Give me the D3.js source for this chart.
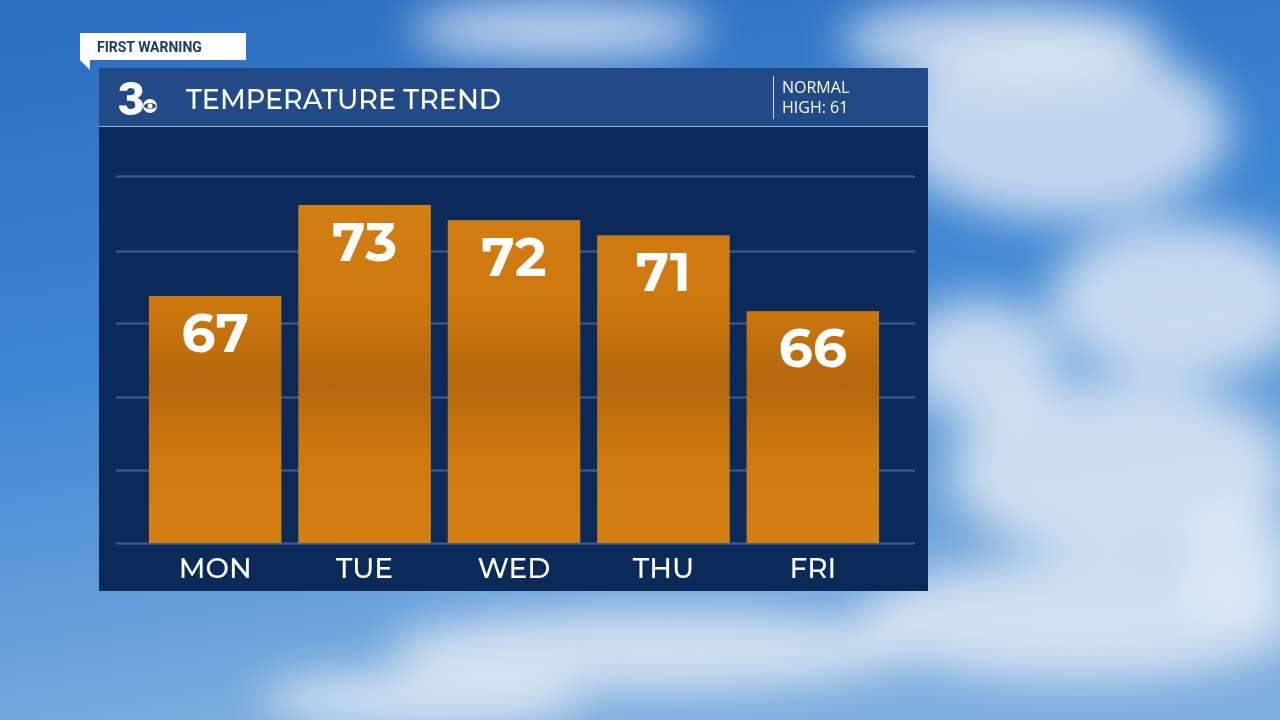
<!DOCTYPE html>
<html><head><meta charset="utf-8">
<script src="https://cdn.jsdelivr.net/npm/d3@7"></script>
<style>body{margin:0;overflow:hidden;background:#3a7cc4}</style>
</head><body>
<svg id="c" width="1280" height="720"></svg>
<script>
const days = ["MON","TUE","WED","THU","FRI"];
const temps = [67,73,72,71,66];
const gridVals = [55.53,60.35,65.2,70.0,74.9];
const title = "TEMPERATURE TREND";
const normalLines = ["NORMAL","HIGH: 61"];

const svg = d3.select("#c");
const defs = svg.append("defs");
const sky = defs.append("linearGradient").attr("id","sky").attr("x1",0).attr("y1",0).attr("x2",0.3).attr("y2",1);
sky.append("stop").attr("offset",0).attr("stop-color","#2a6cc0");
sky.append("stop").attr("offset",0.5).attr("stop-color","#3f86d2");
sky.append("stop").attr("offset",1).attr("stop-color","#7eaede");
const bar = defs.append("linearGradient").attr("id","bar").attr("gradientUnits","userSpaceOnUse").attr("x1",0).attr("y1",205).attr("x2",0).attr("y2",543);
[[0,"#d27e12"],[0.3,"#cc780f"],[0.52,"#b4670b"],[0.75,"#cf7a10"],[1,"#d47f10"]].forEach(s=>bar.append("stop").attr("offset",s[0]).attr("stop-color",s[1]));
const blur = defs.append("filter").attr("id","blur").attr("x","-50%").attr("y","-50%").attr("width","200%").attr("height","200%");
blur.append("feGaussianBlur").attr("stdDeviation",22);

svg.append("rect").attr("width",1280).attr("height",720).attr("fill","url(#sky)");
const clouds = [[1060,130,170,90],[1180,300,130,80],[1000,40,160,40],[1120,470,170,90],[1080,620,220,60],[560,30,150,30],[650,650,260,40],[420,700,160,30],[980,360,80,60],[1240,560,60,50]];
svg.append("g").attr("filter","url(#blur)").selectAll("ellipse").data(clouds).join("ellipse")
 .attr("cx",d=>d[0]).attr("cy",d=>d[1]).attr("rx",d=>d[2]).attr("ry",d=>d[3]).attr("fill","#eef2f7").attr("opacity",0.75);

svg.append("rect").attr("x",99).attr("y",68).attr("width",829).attr("height",523).attr("fill","#0b2a5a");
svg.append("rect").attr("x",99).attr("y",68).attr("width",829).attr("height",58).attr("fill","#224a86");
svg.append("line").attr("x1",99).attr("x2",928).attr("y1",126.5).attr("y2",126.5).attr("stroke","#8fb0d8").attr("stroke-width",1);
svg.append("path").attr("d","M80,33H246V60H90L90,70L80,60Z").attr("fill","#fff");
svg.append("text").attr("x",97).attr("y",52).text("FIRST WARNING").attr("font-family","Roboto").attr("font-weight",700).attr("font-size",14).attr("fill","#1b3a6b");
svg.append("text").attr("x",118).attr("y",115).text("3").attr("font-family","Roboto").attr("font-weight",900).attr("font-size",46).attr("fill","#fff");
svg.append("circle").attr("cx",150).attr("cy",106).attr("r",7).attr("fill","#fff");
svg.append("ellipse").attr("cx",150).attr("cy",106).attr("rx",6).attr("ry",3).attr("fill","#224a86");
svg.append("circle").attr("cx",150).attr("cy",106).attr("r",2.5).attr("fill","#fff");
svg.append("text").attr("x",186).attr("y",109).text(title).attr("font-family","Montserrat, 'Open Sans'").attr("font-weight",500).attr("font-size",27).attr("fill","#fff");
svg.append("line").attr("x1",773.5).attr("x2",773.5).attr("y1",76).attr("y2",119).attr("stroke","#cfd9e8");
normalLines.forEach((t,i)=>svg.append("text").attr("x",782).attr("y",93+i*20).text(t).attr("font-family","'Open Sans'").attr("font-size",16).attr("fill","#fff"));

const x = d3.scaleBand().domain(days).range([122,906]).paddingInner(0.113).paddingOuter(0.18);
const y = d3.scaleLinear().domain([50.72,80]).range([543,98.8]);
svg.append("g").selectAll("line").data(gridVals.concat([50.72])).join("line")
 .attr("x1",116).attr("x2",915).attr("y1",d=>Math.round(y(d))+0.5).attr("y2",d=>Math.round(y(d))+0.5)
 .attr("stroke","#3d5f8e").attr("stroke-width",2);
svg.append("g").selectAll("rect").data(temps).join("rect")
 .attr("x",(d,i)=>x(days[i])).attr("width",x.bandwidth()).attr("y",d=>y(d)).attr("height",d=>y(50.72)-y(d)).attr("fill","url(#bar)");
svg.append("g").selectAll("text").data(temps).join("text")
 .attr("x",(d,i)=>x(days[i])+x.bandwidth()/2).attr("y",d=>y(d)+56).attr("text-anchor","middle")
 .text(d=>d).attr("font-family","Montserrat, 'Open Sans'").attr("font-weight",700).attr("font-size",54).attr("fill","#fff");
svg.append("g").selectAll("text").data(days).join("text")
 .attr("x",d=>x(d)+x.bandwidth()/2).attr("y",578).attr("text-anchor","middle")
 .text(d=>d).attr("font-family","Montserrat, 'Open Sans'").attr("font-weight",500).attr("font-size",28).attr("fill","#fff");
</script>
</body></html>
